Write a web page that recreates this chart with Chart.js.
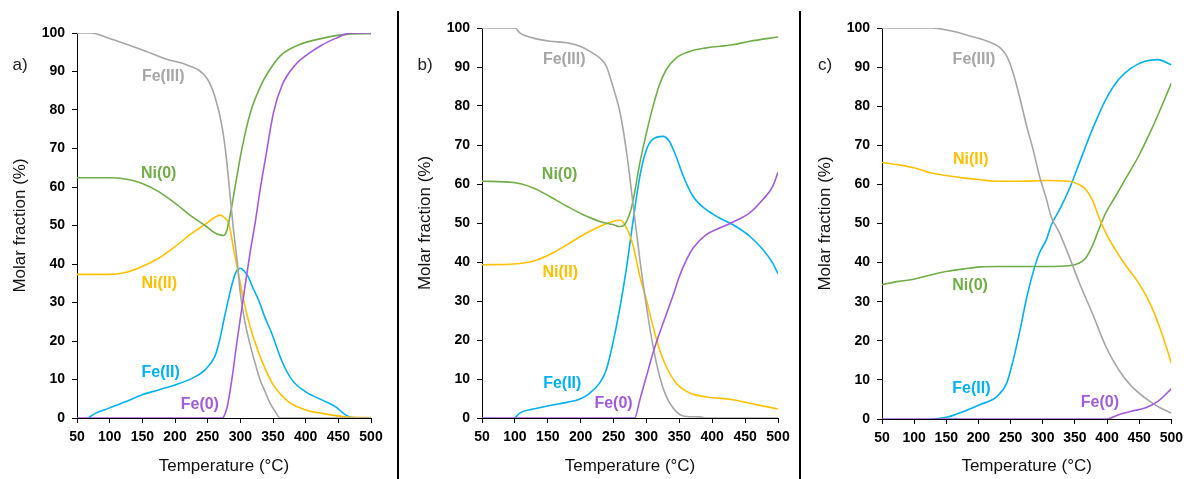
<!DOCTYPE html>
<html>
<head>
<meta charset="utf-8">
<script src="https://cdn.jsdelivr.net/npm/chart.js@4.4.0/dist/chart.umd.min.js"></script>
<style>
  body { margin: 0; background: #fff; width: 1189px; height: 479px; position: relative; overflow: hidden; }
  .panel { position: absolute; top: 0; }
  .sep { position: absolute; top: 11px; height: 468px; width: 2px; background: #000; }
</style>
</head>
<body>
<canvas id="gA" class="panel" style="left:0" width="396" height="479"></canvas>
<canvas id="gB" class="panel" style="left:405px" width="393" height="479"></canvas>
<canvas id="gC" class="panel" style="left:805px" width="384" height="479"></canvas>
<div class="sep" style="left:397px"></div>
<div class="sep" style="left:799px"></div>

<script>
// ---- datos (T en °C, fraccion molar en %) ----

// panel a)
const tA_fe3 = [50, 70, 100, 150, 187, 218, 249, 261, 272, 279, 284, 289, 295, 300, 307, 315, 323, 330, 338, 345, 353, 361, 500];
const vA_fe3 = [100, 100, 98.6, 95.6, 93.2, 91.7, 88.2, 83.5, 75.7, 67, 58.4, 49.7, 41, 32.4, 25, 19, 14, 10, 6.8, 4, 1.8, 0, 0];
const tA_ni0 = [50, 98, 124, 149, 175, 200, 226, 246, 262, 270, 274, 279, 284, 292, 302, 315, 333, 350, 364, 389, 425, 466, 500];
const vA_ni0 = [62.4, 62.4, 62.1, 61, 58.8, 55.8, 52.3, 50, 48, 47.5, 47.4, 48.5, 52.3, 60, 69.6, 79.1, 86.9, 91.7, 94.5, 96.9, 98.6, 99.7, 99.8];
const tA_ni2 = [50, 98, 124, 149, 175, 200, 226, 246, 260, 269, 276, 282, 286, 289, 297, 305, 315, 328, 333, 349, 374, 400, 425, 461, 500];
const vA_ni2 = [37.3, 37.3, 37.8, 39.3, 41.5, 44.5, 48, 50.3, 52, 52.7, 52, 50.6, 47.5, 44.5, 37.6, 30.6, 23.7, 17, 14.8, 9, 4.2, 2.1, 1.2, 0.3, 0.1];
const tA_fe2 = [67, 78, 98, 124, 149, 175, 200, 226, 246, 261, 268, 277, 289, 295, 300, 305, 312, 320, 328, 338, 348, 364, 379, 400, 425, 446, 461, 471, 500];
const vA_fe2 = [0, 1.2, 2.5, 4.2, 6, 7.3, 8.6, 10.3, 12.5, 16, 20, 27.2, 35.8, 38.4, 38.9, 38.3, 36.7, 33.5, 30.6, 26, 22, 14.6, 9.9, 6.8, 4.7, 2.9, 0.8, 0.1, 0];
const tA_fe0 = [50, 272, 280, 287, 295, 307, 315, 323, 330, 338, 351, 364, 384, 405, 425, 446, 466, 500];
const vA_fe0 = [0, 0, 3, 10, 20, 34, 43, 51, 59, 67, 79.5, 86.5, 91.7, 94.7, 96.9, 98.6, 99.9, 100];

// panel b)
const tB_fe3 = [50, 100, 108, 128, 153, 179, 199, 214, 229, 239, 249, 260, 270, 280, 290, 300, 310, 320, 330, 345, 360, 381, 391, 500];
const vB_fe3 = [100, 100, 98.7, 97.4, 96.6, 96.2, 95.3, 94, 92.3, 90.2, 85, 78.2, 67.9, 54.3, 40.6, 28.6, 18.4, 10.7, 5.6, 1.7, 0.4, 0.3, 0, 0];
const tB_ni0 = [50, 98, 128, 153, 179, 204, 229, 249, 260, 267, 275, 280, 290, 300, 310, 320, 330, 345, 366, 391, 431, 457, 500];
const vB_ni0 = [60.7, 60.4, 59, 56.8, 54.3, 52.1, 50.4, 49.6, 49.1, 49.6, 52.6, 56, 65.4, 73.1, 79.9, 85.5, 89.3, 92.3, 94, 94.9, 95.7, 96.6, 97.7];
const tB_ni2 = [50, 98, 128, 153, 179, 204, 229, 249, 260, 270, 280, 290, 300, 310, 320, 330, 345, 366, 391, 431, 457, 500];
const vB_ni2 = [39.3, 39.5, 40.2, 41.9, 44.4, 47, 49.1, 50.4, 50.7, 48.7, 44, 36.3, 30.3, 23.5, 17.5, 13.2, 9, 6.4, 5.4, 4.7, 3.8, 2.3];
const tB_fe2 = [100, 108, 128, 153, 179, 199, 214, 229, 239, 249, 260, 270, 280, 290, 300, 310, 325, 335, 345, 356, 371, 391, 411, 431, 457, 477, 492, 500];
const vB_fe2 = [0, 1.3, 2.3, 3.2, 4, 4.9, 6.4, 9, 12.4, 19.2, 28.6, 38.9, 50.9, 62, 68.8, 71.5, 72.2, 70.9, 67.1, 62, 56.8, 53.4, 51.3, 49.6, 46.6, 43.2, 39.7, 37];
const tB_fe0 = [50, 282, 290, 300, 310, 320, 330, 340, 350, 361, 371, 391, 411, 431, 457, 477, 492, 500];
const vB_fe0 = [0, 0, 4.7, 10.7, 16.7, 21.8, 26.5, 31.2, 36.3, 40.6, 43.6, 47, 48.7, 50.2, 52.6, 56, 59.4, 63];

// panel c)
const tC_fe3 = [50, 127, 162, 188, 214, 234, 244, 254, 265, 275, 285, 295, 306, 313, 326, 341, 357, 377, 398, 418, 438, 459, 479, 500];
const vC_fe3 = [100, 100, 99.1, 97.9, 96.6, 94.9, 92.8, 88.5, 81.7, 74.9, 68.9, 62.1, 56.1, 51.8, 47.6, 41.6, 34.8, 27.1, 18.6, 12.6, 8.4, 5.4, 3.2, 1.5];
const tC_ni2 = [50, 76, 101, 127, 152, 178, 203, 229, 265, 306, 341, 357, 367, 377, 387, 398, 413, 428, 449, 469, 485, 500];
const vC_ni2 = [65.6, 65, 64.2, 62.9, 62.2, 61.6, 61.2, 60.8, 60.8, 61, 60.8, 59.9, 58.7, 56.1, 51.8, 47.6, 43.3, 39.5, 34.8, 28.8, 22, 14.3];
const tC_ni0 = [50, 76, 101, 127, 152, 178, 203, 229, 265, 306, 341, 357, 367, 377, 387, 398, 413, 428, 449, 469, 485, 500];
const vC_ni0 = [34.4, 35.2, 35.8, 36.9, 37.8, 38.4, 38.9, 39, 39, 39, 39.2, 39.9, 41.2, 44.2, 48.4, 52.7, 56.9, 61.2, 67.2, 74, 80, 85.9];
const tC_fe2 = [129, 152, 178, 203, 229, 244, 254, 265, 275, 285, 295, 306, 313, 326, 341, 357, 377, 398, 418, 438, 459, 479, 500];
const vC_fe2 = [0, 0.5, 2, 3.7, 5.8, 9.2, 15, 23, 31, 37.5, 42.5, 46, 49.5, 53.5, 58.7, 65.5, 74, 81.7, 86.8, 89.8, 91.5, 91.9, 90.6];
const tC_fe0 = [50, 400, 418, 438, 459, 479, 500];
const vC_fe0 = [0, 0, 1.1, 2, 2.8, 4.5, 7.7];

// etiquetas de las curvas: [texto, T, valor]
const etiquetasA = [["Fe(III)", 182, 88.8], ["Ni(0)", 175, 63.6], ["Ni(II)", 176, 35], ["Fe(II)", 178, 11.8], ["Fe(0)", 238, 3.6]];
const etiquetasB = [["Fe(III)", 175, 91.9], ["Ni(0)", 168, 62.4], ["Ni(II)", 169, 37.4], ["Fe(II)", 172, 8.8], ["Fe(0)", 250, 3.8]];
const etiquetasC = [["Fe(III)", 193, 91.9], ["Ni(II)", 188, 66.4], ["Ni(0)", 187, 34], ["Fe(II)", 189, 7.8], ["Fe(0)", 389, 4.1]];

const xTicks = [50, 100, 150, 200, 250, 300, 350, 400, 450, 500];

// colores
const colores = {
    "Fe(III)": "#A6A6A6",
    "Ni(0)": "#70AD47",
    "Ni(II)": "#FFC000",
    "Fe(II)": "#00B0F0",
    "Fe(0)": "#A05CDB"
};
const fuente = "'Liberation Sans', Arial, sans-serif";

// helpers
function puntos(ts, vs) {
    return ts.map((t, i) => ({ x: t, y: vs[i] }));
}

function serie(nombre, ts, vs) {
    return {
        label: nombre,
        data: puntos(ts, vs),
        borderColor: colores[nombre],
        borderWidth: 1.6,
        pointRadius: 0,
        fill: false,
        cubicInterpolationMode: "monotone"
    };
}

// plugin: textos de las curvas y letra del panel
const textosPlugin = {
    id: "textos",
    afterDatasetsDraw(chart, args, opts) {
        const ctx = chart.ctx;
        const xs = chart.scales.x, ys = chart.scales.y;
        ctx.save();
        ctx.textAlign = "center";
        ctx.textBaseline = "middle";
        ctx.font = "bold 16px " + fuente;
        opts.items.forEach(([txt, t, v]) => {
            ctx.fillStyle = colores[txt];
            ctx.fillText(txt, xs.getPixelForValue(t), ys.getPixelForValue(v));
        });
        ctx.font = "17px " + fuente;
        ctx.fillStyle = "#222";
        ctx.fillText(opts.letra, chart.chartArea.left - 57, 65);
        ctx.restore();
    }
};

function crearGrafico(id, series, etiquetas, letra, padTop, padRight, altoX) {
    const ctx = document.getElementById(id).getContext("2d");
    return new Chart(ctx, {
        type: "line",
        data: { datasets: series },
        options: {
            responsive: false,
            animation: false,
            layout: { padding: { top: padTop, right: padRight, left: 0, bottom: 0 } },
            scales: {
                x: {
                    type: "linear",
                    min: 50, max: 500,
                    afterBuildTicks: (s) => { s.ticks = xTicks.map(v => ({ value: v })); },
                    afterFit: (s) => { s.height = altoX; },
                    grid: { drawOnChartArea: false, drawTicks: true, tickLength: 5, color: "#000" },
                    border: { display: true, color: "#000", width: 1 },
                    ticks: { color: "#000", padding: 6, maxRotation: 0, font: { family: fuente, size: 14, weight: "bold" } },
                    title: { display: true, text: "Temperature (°C)", color: "#111", padding: { top: 0, bottom: 2 }, font: { family: fuente, size: 17 } }
                },
                y: {
                    min: 0, max: 100,
                    ticks: { stepSize: 10, color: "#000", padding: 7, font: { family: fuente, size: 14, weight: "bold" } },
                    afterFit: (s) => { s.width = 77; },
                    grid: { drawOnChartArea: false, drawTicks: true, tickLength: 5, color: "#000" },
                    border: { display: true, color: "#000", width: 1 },
                    title: { display: true, text: "Molar fraction (%)", color: "#111", padding: { top: 10, bottom: 0 }, font: { family: fuente, size: 17 } }
                }
            },
            plugins: {
                legend: { display: false },
                tooltip: { enabled: false },
                textos: { items: etiquetas, letra: letra }
            }
        },
        plugins: [textosPlugin]
    });
}

// a)
crearGrafico("gA", [
    serie("Fe(0)", tA_fe0, vA_fe0),
    serie("Fe(III)", tA_fe3, vA_fe3),
    serie("Ni(0)", tA_ni0, vA_ni0),
    serie("Ni(II)", tA_ni2, vA_ni2),
    serie("Fe(II)", tA_fe2, vA_fe2)
], etiquetasA, "a)", 33, 25, 61);

// b)
crearGrafico("gB", [
    serie("Fe(0)", tB_fe0, vB_fe0),
    serie("Fe(III)", tB_fe3, vB_fe3),
    serie("Ni(0)", tB_ni0, vB_ni0),
    serie("Ni(II)", tB_ni2, vB_ni2),
    serie("Fe(II)", tB_fe2, vB_fe2)
], etiquetasB, "b)", 28, 20, 61);

// c)
crearGrafico("gC", [
    serie("Fe(0)", tC_fe0, vC_fe0),
    serie("Fe(III)", tC_fe3, vC_fe3),
    serie("Ni(II)", tC_ni2, vC_ni2),
    serie("Ni(0)", tC_ni0, vC_ni0),
    serie("Fe(II)", tC_fe2, vC_fe2)
], etiquetasC, "c)", 28, 13, 60);
</script>
</body>
</html>
